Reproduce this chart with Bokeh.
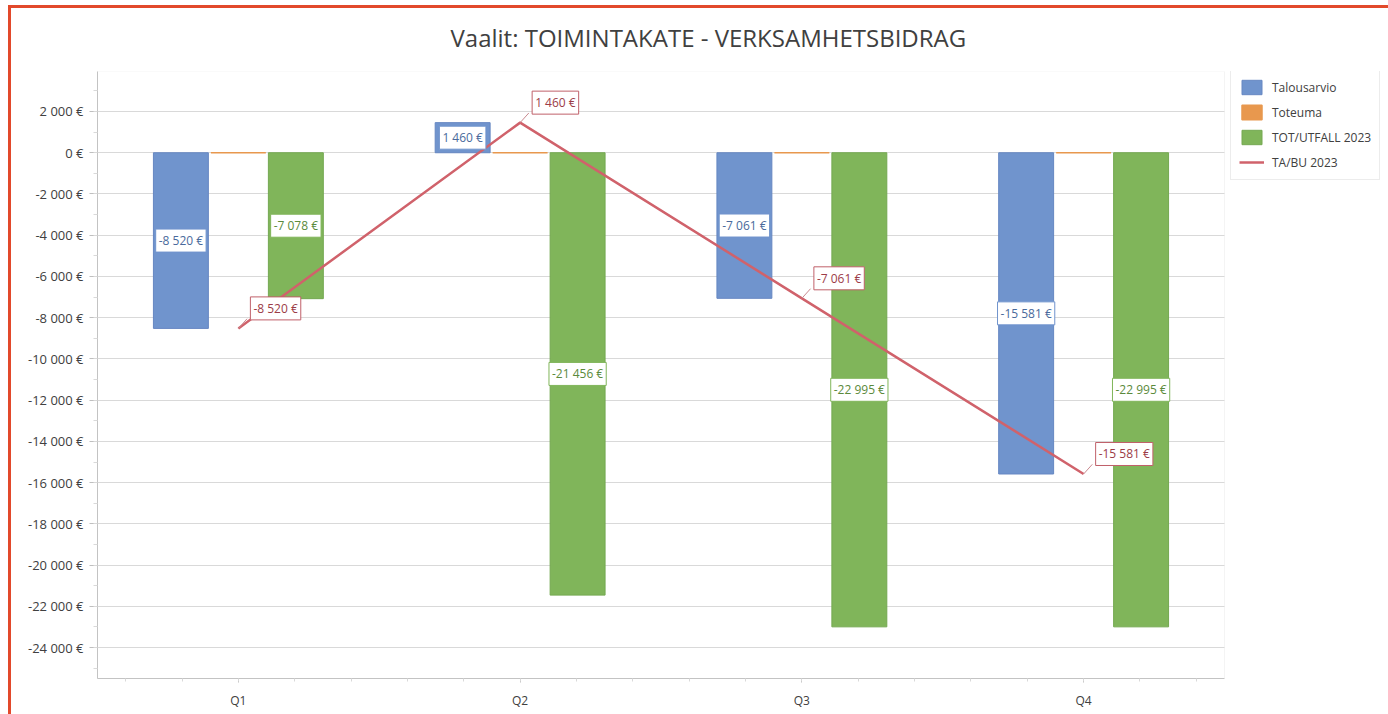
import numpy as np
from bokeh.plotting import figure
from bokeh.models import (ColumnDataSource, FixedTicker, Legend, LegendItem, Range1d,
                          BoxAnnotation)
from bokeh.core.properties import value
from bokeh.embed import file_html
from bokeh.resources import INLINE

# ---------------- data ----------------
title_text = "Vaalit: TOIMINTAKATE - VERKSAMHETSBIDRAG"
categories = ["Q1", "Q2", "Q3", "Q4"]
talousarvio = [-8520, 1460, -7061, -15581]
toteuma = [0, 0, 0, 0]
tot_utfall_2023 = [-7078, -21456, -22995, -22995]
ta_bu_2023 = [-8520, 1460, -7061, -15581]
series_names = ["Talousarvio", "Toteuma", "TOT/UTFALL 2023", "TA/BU 2023"]
y_ticks = list(range(2000, -26000, -2000))


def eur(v):
    return f"{int(v):,}".replace(",", " ") + " €"


# ---------------- style ----------------
FONT = "Open Sans"
BLUE, BLUE_EDGE, BLUE_TXT = "#7094cd", "#6687c2", "#4a6a9c"
ORANGE = "#e8984e"
GREEN, GREEN_EDGE, GREEN_TXT = "#80b55a", "#74a851", "#5b8a3b"
RED, RED_TXT = "#d0626b", "#9c3c47"
AXIS = "#bfbfbf"
GRID = "#d9d9d9"
TXT = "#404040"

W, H = 1388, 714
TOP, BOTTOM, LEFT = 70, 36, 97
PLOT_W = 1127                      # width of the category area in pixels
FRAME_W = W - LEFT
FRAME_H = H - TOP - BOTTOM
n = len(categories)
x_end = n * FRAME_W / PLOT_W       # frame extends under the legend column

xs = np.arange(n) + 0.5
off, bw = 0.204, 0.195

p = figure(width=W, height=H, output_backend="svg", toolbar_location=None,
           x_range=Range1d(0, x_end), y_range=Range1d(-25500, 3940),
           min_border_left=LEFT, min_border_right=0,
           min_border_top=TOP, min_border_bottom=BOTTOM)
p.styles = {"box-shadow": "inset 8px 5px 0 0 #ffffff, inset 11px 8px 0 0 #e2492b",
            "background-color": "#ffffff"}
p.outline_line_color = None
p.background_fill_color = "white"
p.border_fill_color = None

# title
p.title.text = title_text
p.title.align = "left"
p.title.offset = 450 - LEFT
p.title.text_font = FONT
p.title.text_font_size = "24px"
p.title.text_font_style = "normal"
p.title.text_color = TXT
p.title.vertical_align = "bottom"
p.title.standoff = 36

# axes
p.xaxis.ticker = FixedTicker(ticks=list(xs), minor_ticks=list(np.arange(0.1, n, 0.2)))
p.xaxis.major_label_overrides = {float(x): c for x, c in zip(xs, categories)}
p.xaxis.bounds = (0, n)
p.yaxis.ticker = FixedTicker(ticks=y_ticks, minor_ticks=list(range(-25000, 4000, 1000)))
p.yaxis.major_label_overrides = {t: eur(t) for t in y_ticks}
for ax in (p.xaxis[0], p.yaxis[0]):
    ax.axis_line_color = AXIS
    ax.major_tick_line_color = AXIS
    ax.minor_tick_line_color = GRID
    ax.major_tick_in = 0
    ax.minor_tick_in = 0
    ax.major_label_text_color = TXT
    ax.major_label_text_font = FONT
p.yaxis.major_tick_out = 8
p.yaxis.minor_tick_out = 4
p.yaxis.major_label_standoff = 6
p.yaxis.major_label_text_font_size = "13px"
p.xaxis.major_tick_out = 4
p.xaxis.minor_tick_out = 3
p.xaxis.major_label_standoff = 9
p.xaxis.major_label_text_font_size = "12px"
p.xgrid.visible = False
p.ygrid.grid_line_color = GRID

# bars
r_blue = p.vbar(x=xs - off, top=talousarvio, bottom=0, width=bw,
                fill_color=BLUE, line_color=BLUE_EDGE)
r_orange = p.vbar(x=xs, top=toteuma, bottom=0, width=bw,
                  fill_color=ORANGE, line_color=ORANGE, line_width=1.5)
r_green = p.vbar(x=xs + off, top=tot_utfall_2023, bottom=0, width=bw,
                 fill_color=GREEN, line_color=GREEN_EDGE)

# line
r_line = p.line(x=xs, y=ta_bu_2023, line_color=RED, line_width=2.5)

# leader lines for line labels
p.ray(x=xs, y=ta_bu_2023, length=13, length_units="screen", angle=48,
      angle_units="deg", line_color="#c98a90", line_width=1)

label_common = dict(text_align="center", text_baseline="middle",
                    text_font=value(FONT), text_font_size="12px",
                    background_fill_color="white", padding=3)

src_b = ColumnDataSource(dict(x=xs - off, y=[v / 2 for v in talousarvio],
                              text=[eur(v) for v in talousarvio]))
p.text(x="x", y="y", text="text", source=src_b, text_color=BLUE_TXT,
       border_line_color=BLUE, **label_common)

src_g = ColumnDataSource(dict(x=xs + off, y=[v / 2 for v in tot_utfall_2023],
                              text=[eur(v) for v in tot_utfall_2023]))
p.text(x="x", y="y", text="text", source=src_g, text_color=GREEN_TXT,
       border_line_color=GREEN, **label_common)

src_r = ColumnDataSource(dict(x=xs, y=ta_bu_2023, text=[eur(v) for v in ta_bu_2023]))
lc = dict(label_common)
lc["text_align"] = "left"
p.text(x="x", y="y", text="text", source=src_r, text_color=RED_TXT,
       border_line_color="#c0606a", x_offset=12, y_offset=-20, **lc)

# blank column right of the plot area (legend column) + plot-area outline
p.add_layout(BoxAnnotation(left=n, fill_color="white", fill_alpha=1, line_alpha=0))
p.add_layout(BoxAnnotation(left=0, right=n, fill_alpha=0, line_color=GRID, line_width=1))

# legend
LEG_H = 2 * 8 + 4 * 18 + 3 * 7
legend = Legend(items=[
    LegendItem(label=series_names[0], renderers=[r_blue]),
    LegendItem(label=series_names[1], renderers=[r_orange]),
    LegendItem(label=series_names[2], renderers=[r_green]),
    LegendItem(label=series_names[3], renderers=[r_line]),
], location=(PLOT_W + 6, FRAME_H - LEG_H - 1))
legend.glyph_width = 25
legend.glyph_height = 18
legend.label_height = 18
legend.spacing = 7
legend.padding = 8
legend.margin = 0
legend.label_standoff = 8
legend.label_text_font = FONT
legend.label_text_font_size = "12px"
legend.label_text_color = TXT
legend.border_line_color = GRID
legend.background_fill_color = "white"
legend.background_fill_alpha = 1
p.add_layout(legend)

open("out.html", "w").write(file_html(p, INLINE))
